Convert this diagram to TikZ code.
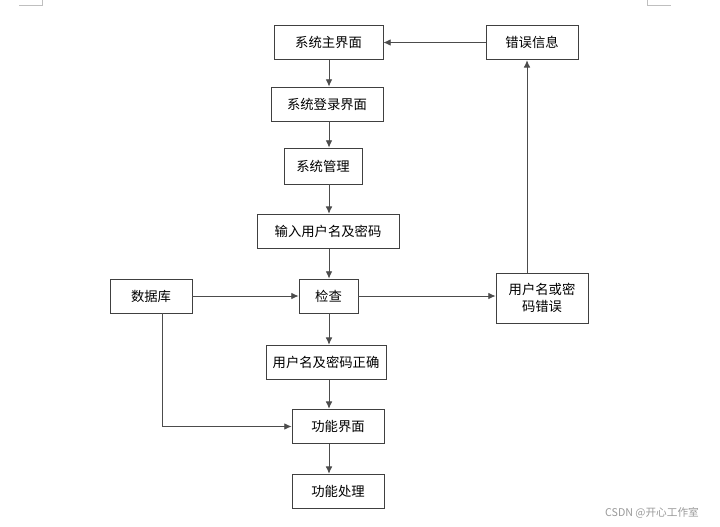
\documentclass[tikz,border=0pt]{standalone}
\usepackage{fontspec}
\newfontfamily\cjk{Noto Sans CJK SC}
\usepackage{tikz}
\usetikzlibrary{arrows.meta, positioning, calc}

\tikzset{
  box/.style={draw=black!75, line width=0.6pt, inner sep=0pt, minimum height=26pt,
    font=\cjk\fontsize{10}{12.5}\selectfont, align=center},
  link/.style={-{Latex[length=5.5pt, width=5pt]}, draw=black!70, line width=0.7pt},
  cornermark/.style={draw=black!25, line width=0.5pt}
}

\begin{document}
\begin{tikzpicture}[x=0.75pt, y=-0.75pt]
\useasboundingbox (0,0) rectangle (720,526);

% Page corners
\draw[cornermark] (19,5) -- (42.5,5) -- (42.5,0);
\draw[cornermark] (647.5,0) -- (647.5,5) -- (671,5);

% Boxes
\node[box, minimum width=81.75pt] (main) at (328.5,42.5) {系统主界面};
\node[box, minimum width=69pt] (info) at (532,42.5) {错误信息};
\node[box, minimum width=84pt, minimum height=25.5pt] (login) at (327,104) {系统登录界面};
\node[box, minimum width=58.5pt, minimum height=27pt] (manage) at (323,166) {系统管理};
\node[box, minimum width=106.5pt] (input) at (328,231.5) {输入用户名及密码};
\node[box, minimum width=61.5pt, minimum height=25.5pt] (db) at (151,296) {数据库};
\node[box, minimum width=44.25pt, minimum height=25.5pt] (check) at (328.5,296) {检查};
\node[box, minimum width=69pt, minimum height=37.5pt] (wrong) at (542,298) {用户名或密\\码错误};
\node[box, minimum width=90pt] (right) at (326,362.5) {用户名及密码正确};
\node[box, minimum width=69pt] (func) at (338,426.5) {功能界面};
\node[box, minimum width=69pt] (proc) at (338,491.5) {功能处理};

% Helper lines
\coordinate (spine) at (329,0);
\coordinate (back) at (527,0);
\coordinate (dbx) at (162,0);

% Arrows
\draw[link] (main.south -| spine) -- (login.north -| spine);
\draw[link] (login.south -| spine) -- (manage.north -| spine);
\draw[link] (manage.south -| spine) -- (input.north -| spine);
\draw[link] (input.south -| spine) -- (check.north -| spine);
\draw[link] (check.south -| spine) -- (right.north -| spine);
\draw[link] (right.south -| spine) -- (func.north -| spine);
\draw[link] (func.south -| spine) -- (proc.north -| spine);
\draw[link] (db.east) -- (check.west);
\draw[link] (db.south -| dbx) |- (func.west);
\draw[link] (check.east) -- (check.east -| wrong.west);
\draw[link] (wrong.north -| back) -- (info.south -| back);
\draw[link] (info.west) -- (main.east);

% Watermark
\node[text=black!40, font=\cjk\fontsize{8}{10}\selectfont] (wm) at (652,513) {CSDN @开心工作室};
\end{tikzpicture}
\end{document}
